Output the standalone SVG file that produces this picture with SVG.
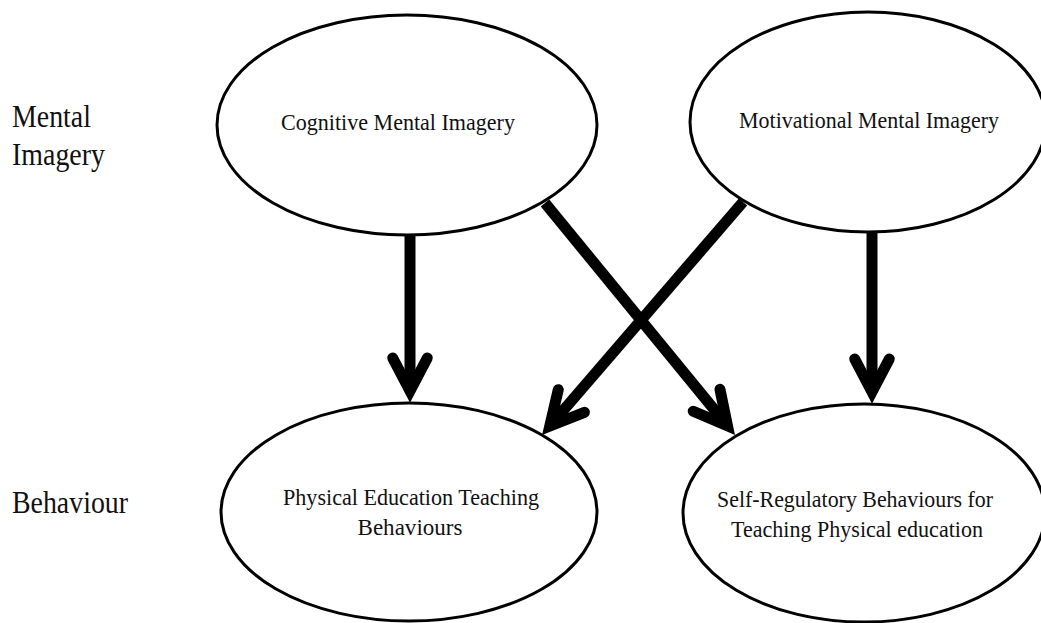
<svg xmlns="http://www.w3.org/2000/svg" width="1041" height="623" viewBox="0 0 1041 623">
  <style>
    .node { fill: #ffffff; stroke: #000000; stroke-width: 3; }
    .txt { font-family: "Liberation Serif", "Times New Roman", serif; font-size: 23px; fill: #111111; text-anchor: middle; }
    .lbl { font-family: "Liberation Serif", "Times New Roman", serif; font-size: 32px; fill: #111111; }
    .edge { fill: none; stroke: #000000; stroke-width: 11; stroke-linecap: butt; }
  </style>
  <defs>
    <marker id="chev" markerUnits="userSpaceOnUse" orient="auto" refX="0" refY="0" markerWidth="80" markerHeight="80" viewBox="-50 -40 80 80" overflow="visible">
      <path d="M -33 -17.3 L 0 0 L -33 17.3" fill="none" stroke="#000000" stroke-width="11" stroke-linecap="round" stroke-linejoin="miter" stroke-miterlimit="10"/>
    </marker>
  </defs>
  <rect x="0" y="0" width="1041" height="623" fill="#ffffff"/>

  <g id="labels">
    <text class="lbl" x="12" y="127" textLength="79" lengthAdjust="spacingAndGlyphs">Mental</text>
    <text class="lbl" x="12" y="165" textLength="93" lengthAdjust="spacingAndGlyphs">Imagery</text>
    <text class="lbl" x="12" y="513" textLength="116" lengthAdjust="spacingAndGlyphs">Behaviour</text>
  </g>

  <g id="connectors">
    <line class="edge" x1="410" y1="236" x2="410" y2="391" marker-end="url(#chev)"/>
    <line class="edge" x1="872" y1="233" x2="872" y2="392" marker-end="url(#chev)"/>
    <line class="edge" x1="545" y1="203" x2="727.5" y2="425.8" marker-end="url(#chev)"/>
    <line class="edge" x1="743" y1="202" x2="549.8" y2="426" marker-end="url(#chev)"/>
  </g>

  <g id="node-cognitive">
    <ellipse class="node" cx="407" cy="125" rx="190" ry="110"/>
    <text class="txt" x="398" y="130" textLength="234" lengthAdjust="spacingAndGlyphs">Cognitive Mental Imagery</text>
  </g>

  <g id="node-motivational">
    <ellipse class="node" cx="868" cy="122" rx="178" ry="110"/>
    <text class="txt" x="869" y="128" textLength="260" lengthAdjust="spacingAndGlyphs">Motivational Mental Imagery</text>
  </g>

  <g id="node-pe-teaching">
    <ellipse class="node" cx="409" cy="512" rx="188" ry="109"/>
    <text class="txt" x="411" y="505" textLength="256" lengthAdjust="spacingAndGlyphs">Physical Education Teaching</text>
    <text class="txt" x="410" y="535" textLength="105" lengthAdjust="spacingAndGlyphs">Behaviours</text>
  </g>

  <g id="node-self-regulatory">
    <ellipse class="node" cx="864" cy="513" rx="181" ry="109"/>
    <text class="txt" x="855" y="507" textLength="276" lengthAdjust="spacingAndGlyphs">Self-Regulatory Behaviours for</text>
    <text class="txt" x="857" y="537" textLength="252" lengthAdjust="spacingAndGlyphs">Teaching Physical education</text>
  </g>
</svg>
